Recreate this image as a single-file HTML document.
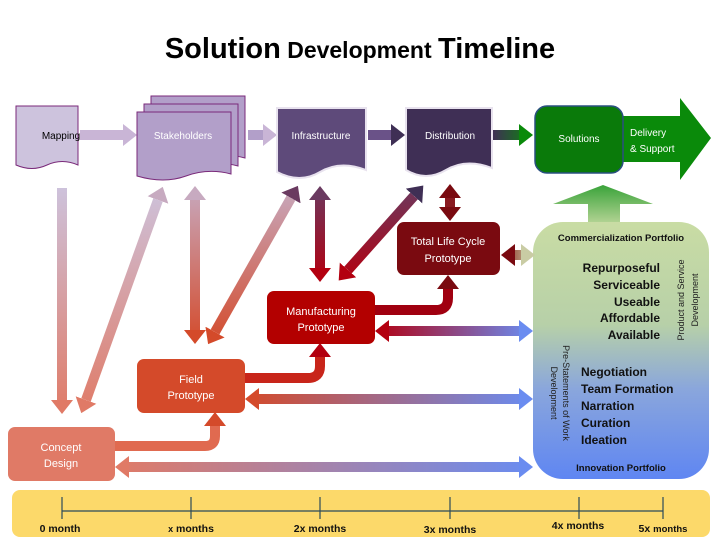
<!DOCTYPE html>
<html><head><meta charset="utf-8"><style>
body{margin:0;background:#fff;}
svg{display:block;font-family:"Liberation Sans",sans-serif;}
</style></head><body>
<svg width="720" height="540" viewBox="0 0 720 540" xmlns="http://www.w3.org/2000/svg">
<defs>
<linearGradient id="port" x1="0" y1="0" x2="0" y2="1">
<stop offset="0" stop-color="#c9dca4"/><stop offset="0.4" stop-color="#b7d0a8"/><stop offset="0.65" stop-color="#8aa6dc"/><stop offset="1" stop-color="#5f86f2"/></linearGradient>
<linearGradient id="gup" x1="0" y1="0" x2="0" y2="1"><stop offset="0" stop-color="#3aa33a"/><stop offset="1" stop-color="#c9dca4"/></linearGradient>
<linearGradient id="h1" gradientUnits="userSpaceOnUse" x1="115" y1="0" x2="530" y2="0"><stop offset="0" stop-color="#e07a66"/><stop offset="1" stop-color="#6a8cf0"/></linearGradient>
<linearGradient id="h2" gradientUnits="userSpaceOnUse" x1="245" y1="0" x2="530" y2="0"><stop offset="0" stop-color="#d44a2a"/><stop offset="1" stop-color="#6a8cf0"/></linearGradient>
<linearGradient id="h3" gradientUnits="userSpaceOnUse" x1="375" y1="0" x2="530" y2="0"><stop offset="0" stop-color="#b30010"/><stop offset="1" stop-color="#6a8cf0"/></linearGradient>
<linearGradient id="v1" gradientUnits="userSpaceOnUse" x1="0" y1="185" x2="0" y2="415"><stop offset="0" stop-color="#cdc3dd"/><stop offset="1" stop-color="#e07a66"/></linearGradient>
<linearGradient id="v2" gradientUnits="userSpaceOnUse" x1="0" y1="185" x2="0" y2="345"><stop offset="0" stop-color="#c7aac0"/><stop offset="1" stop-color="#d44a2a"/></linearGradient>
<linearGradient id="v3" gradientUnits="userSpaceOnUse" x1="0" y1="185" x2="0" y2="280"><stop offset="0" stop-color="#6a3a60"/><stop offset="1" stop-color="#b30010"/></linearGradient>
<linearGradient id="dg" gradientUnits="userSpaceOnUse" x1="493" y1="0" x2="533" y2="0"><stop offset="0" stop-color="#3f2f55"/><stop offset="1" stop-color="#0a8a0a"/></linearGradient>
<linearGradient id="tl" gradientUnits="userSpaceOnUse" x1="503" y1="0" x2="533" y2="0"><stop offset="0" stop-color="#8a2a20"/><stop offset="1" stop-color="#c9cca4"/></linearGradient>
<marker id="mP" viewBox="0 0 14 22" refX="0" refY="11" markerWidth="14" markerHeight="22" markerUnits="userSpaceOnUse" orient="auto-start-reverse"><path d="M0,0L14,11L0,22z" fill="#c9b5d6"/></marker>
<marker id="mP2" viewBox="0 0 14 22" refX="0" refY="11" markerWidth="14" markerHeight="22" markerUnits="userSpaceOnUse" orient="auto-start-reverse"><path d="M0,0L14,11L0,22z" fill="#6a5288"/></marker>
<marker id="mP3" viewBox="0 0 14 22" refX="0" refY="11" markerWidth="14" markerHeight="22" markerUnits="userSpaceOnUse" orient="auto-start-reverse"><path d="M0,0L14,11L0,22z" fill="#3f2f55"/></marker>
<marker id="mG" viewBox="0 0 14 22" refX="0" refY="11" markerWidth="14" markerHeight="22" markerUnits="userSpaceOnUse" orient="auto-start-reverse"><path d="M0,0L14,11L0,22z" fill="#0a8a0a"/></marker>
<marker id="mS" viewBox="0 0 14 22" refX="0" refY="11" markerWidth="14" markerHeight="22" markerUnits="userSpaceOnUse" orient="auto-start-reverse"><path d="M0,0L14,11L0,22z" fill="#e07a66"/></marker>
<marker id="mO" viewBox="0 0 14 22" refX="0" refY="11" markerWidth="14" markerHeight="22" markerUnits="userSpaceOnUse" orient="auto-start-reverse"><path d="M0,0L14,11L0,22z" fill="#d44a2a"/></marker>
<marker id="mR" viewBox="0 0 14 22" refX="0" refY="11" markerWidth="14" markerHeight="22" markerUnits="userSpaceOnUse" orient="auto-start-reverse"><path d="M0,0L14,11L0,22z" fill="#b30010"/></marker>
<marker id="mD" viewBox="0 0 14 22" refX="0" refY="11" markerWidth="14" markerHeight="22" markerUnits="userSpaceOnUse" orient="auto-start-reverse"><path d="M0,0L14,11L0,22z" fill="#7a0a10"/></marker>
<marker id="mB" viewBox="0 0 14 22" refX="0" refY="11" markerWidth="14" markerHeight="22" markerUnits="userSpaceOnUse" orient="auto-start-reverse"><path d="M0,0L14,11L0,22z" fill="#6a8cf0"/></marker>
<marker id="mL" viewBox="0 0 14 22" refX="0" refY="11" markerWidth="14" markerHeight="22" markerUnits="userSpaceOnUse" orient="auto-start-reverse"><path d="M0,0L14,11L0,22z" fill="#c9cca4"/></marker>
<marker id="mPk" viewBox="0 0 14 22" refX="0" refY="11" markerWidth="14" markerHeight="22" markerUnits="userSpaceOnUse" orient="auto-start-reverse"><path d="M0,0L14,11L0,22z" fill="#c7aac0"/></marker>
<marker id="mM" viewBox="0 0 14 22" refX="0" refY="11" markerWidth="14" markerHeight="22" markerUnits="userSpaceOnUse" orient="auto-start-reverse"><path d="M0,0L14,11L0,22z" fill="#6a3a60"/></marker>
</defs>

<text x="360" y="58" text-anchor="middle" font-weight="bold" fill="#000"><tspan font-size="29">Solution</tspan><tspan font-size="23"> Development </tspan><tspan font-size="29">Timeline</tspan></text>

<!-- horizontal top arrows -->
<line x1="80" y1="135" x2="123" y2="135" stroke="#c9b5d6" stroke-width="10" marker-end="url(#mP)"/>
<line x1="248" y1="135" x2="263" y2="135" stroke="#b29fc9" stroke-width="10" marker-end="url(#mP)"/>
<line x1="368" y1="135" x2="391" y2="135" stroke="#6a5288" stroke-width="10" marker-end="url(#mP3)"/>
<line x1="493" y1="135" x2="519" y2="135" stroke="url(#dg)" stroke-width="10" marker-end="url(#mG)"/>

<!-- Mapping -->
<path d="M16,106H78V165Q62,158 47,165T16,165Z" fill="#cdc3dd" stroke="#7a2a7a" stroke-width="1"/>
<text x="61" y="139" font-size="10" text-anchor="middle">Mapping</text>
<!-- Stakeholders -->
<path d="M151,96H245V158Q222,152 200,160T151,160Z" fill="#b29fc9" stroke="#7a2a7a"/>
<path d="M144,104H238V166Q215,160 193,168T144,168Z" fill="#b29fc9" stroke="#7a2a7a"/>
<path d="M137,112H231V174Q208,168 186,176T137,176Z" fill="#b29fc9" stroke="#7a2a7a"/>
<text x="183" y="139" font-size="10" text-anchor="middle" fill="#fff">Stakeholders</text>
<!-- Infrastructure -->
<path d="M277,108H366V170Q340,160 320,172T277,172Z" fill="#5e4a7a" stroke="#e8e2ee" stroke-width="2"/>
<text x="321" y="139" font-size="10" text-anchor="middle" fill="#fff">Infrastructure</text>
<!-- Distribution -->
<path d="M406,108H492V168Q466,158 446,170T406,170Z" fill="#3f2f55" stroke="#e8e2ee" stroke-width="2"/>
<text x="450" y="139" font-size="10" text-anchor="middle" fill="#fff">Distribution</text>
<!-- Solutions + delivery -->
<polygon points="622,116 680,116 680,98 711,138 680,180 680,162 622,162" fill="#0a8a0a"/>
<rect x="535" y="106" width="88" height="67" rx="12" fill="#0a7a0a" stroke="#2a5080" stroke-width="1.5"/>
<text x="579" y="142" font-size="10" text-anchor="middle" fill="#fff">Solutions</text>
<text x="630" y="136" font-size="10" fill="#fff">Delivery</text>
<text x="630" y="152" font-size="10" fill="#fff">&amp; Support</text>

<!-- green up arrow -->
<polygon points="588,230 588,204 553,204 603,185 653,204 620,204 620,230" fill="url(#gup)"/>

<!-- portfolio -->
<rect x="533" y="222" width="176" height="257" rx="30" fill="url(#port)"/>
<text x="621" y="241" font-size="9.5" font-weight="bold" text-anchor="middle" fill="#111">Commercialization Portfolio</text>
<g font-size="12" font-weight="bold" text-anchor="end" fill="#111">
<text x="660" y="272">Repurposeful</text><text x="660" y="289">Serviceable</text><text x="660" y="306">Useable</text><text x="660" y="322">Affordable</text><text x="660" y="339">Available</text></g>
<text transform="translate(684,300) rotate(-90)" font-size="9" text-anchor="middle" fill="#222">Product  and Service</text>
<text transform="translate(698,300) rotate(-90)" font-size="9" text-anchor="middle" fill="#222">Development</text>
<text transform="translate(563,393) rotate(90)" font-size="9" text-anchor="middle" fill="#222">Pre-Statements of Work</text>
<text transform="translate(551,393) rotate(90)" font-size="9" text-anchor="middle" fill="#222">Development</text>
<g font-size="12" font-weight="bold" fill="#111">
<text x="581" y="376">Negotiation</text><text x="581" y="393">Team Formation</text><text x="581" y="410">Narration</text><text x="581" y="427">Curation</text><text x="581" y="444">Ideation</text></g>
<text x="621" y="471" font-size="9.5" font-weight="bold" text-anchor="middle" fill="#111">Innovation Portfolio</text>

<!-- vertical/diagonal arrows -->
<line x1="62" y1="188" x2="62" y2="400" stroke="url(#v1)" stroke-width="10" marker-end="url(#mS)"/>
<line x1="86" y1="400" x2="158" y2="200" stroke="url(#v1)" stroke-width="10" marker-start="url(#mS)" marker-end="url(#mPk)"/>
<line x1="195" y1="200" x2="195" y2="330" stroke="url(#v2)" stroke-width="10" marker-start="url(#mPk)" marker-end="url(#mO)"/>
<line x1="215" y1="332" x2="291" y2="198" stroke="url(#v2)" stroke-width="10" marker-start="url(#mO)" marker-end="url(#mM)"/>
<line x1="320" y1="200" x2="320" y2="268" stroke="url(#v3)" stroke-width="10" marker-start="url(#mM)" marker-end="url(#mR)"/>
<line x1="348" y1="270" x2="414" y2="196" stroke="url(#v3)" stroke-width="10" marker-start="url(#mR)" marker-end="url(#mP3)"/>
<line x1="450" y1="198" x2="450" y2="207" stroke="#8a1a20" stroke-width="10" marker-start="url(#mD)" marker-end="url(#mD)"/>

<!-- horizontal long double arrows -->
<line x1="129" y1="467" x2="519" y2="467" stroke="url(#h1)" stroke-width="10" marker-start="url(#mS)" marker-end="url(#mB)"/>
<line x1="259" y1="399" x2="519" y2="399" stroke="url(#h2)" stroke-width="10" marker-start="url(#mO)" marker-end="url(#mB)"/>
<line x1="389" y1="331" x2="519" y2="331" stroke="url(#h3)" stroke-width="10" marker-start="url(#mR)" marker-end="url(#mB)"/>
<line x1="515" y1="255" x2="521" y2="255" stroke="url(#tl)" stroke-width="10" marker-start="url(#mD)" marker-end="url(#mL)"/>

<!-- elbow arrows -->
<path d="M112,446H205Q215,446 215,436V426" fill="none" stroke="#e06a50" stroke-width="10" marker-end="url(#mO)"/>
<path d="M242,378H308Q320,378 320,366V357" fill="none" stroke="#c8251a" stroke-width="10" marker-end="url(#mR)"/>
<path d="M372,310H436Q448,310 448,298V289" fill="none" stroke="#a00010" stroke-width="10" marker-end="url(#mD)"/>

<!-- boxes -->
<rect x="397" y="222" width="103" height="53" rx="7" fill="#7a0a10"/>
<text x="448" y="245" font-size="11" text-anchor="middle" fill="#fff">Total Life Cycle</text>
<text x="448" y="262" font-size="11" text-anchor="middle" fill="#fff">Prototype</text>
<rect x="267" y="291" width="108" height="53" rx="7" fill="#b30000"/>
<text x="321" y="315" font-size="11" text-anchor="middle" fill="#fff">Manufacturing</text>
<text x="321" y="331" font-size="11" text-anchor="middle" fill="#fff">Prototype</text>
<rect x="137" y="359" width="108" height="54" rx="7" fill="#d44a2a"/>
<text x="191" y="383" font-size="11" text-anchor="middle" fill="#fff">Field</text>
<text x="191" y="399" font-size="11" text-anchor="middle" fill="#fff">Prototype</text>
<rect x="8" y="427" width="107" height="54" rx="7" fill="#e07a66"/>
<text x="61" y="451" font-size="11" text-anchor="middle" fill="#fff">Concept</text>
<text x="61" y="467" font-size="11" text-anchor="middle" fill="#fff">Design</text>

<!-- timeline -->
<rect x="12" y="490" width="698" height="47" rx="8" fill="#fcd96a"/>
<line x1="62" y1="511" x2="663" y2="511" stroke="#2a4a5a" stroke-width="1.2"/>
<g stroke="#2a4a5a" stroke-width="1.2">
<line x1="62" y1="497" x2="62" y2="519"/><line x1="191" y1="497" x2="191" y2="519"/><line x1="320" y1="497" x2="320" y2="519"/><line x1="450" y1="497" x2="450" y2="519"/><line x1="579" y1="497" x2="579" y2="519"/><line x1="663" y1="497" x2="663" y2="519"/></g>
<g font-size="10.5" font-weight="bold" fill="#111" text-anchor="middle">
<text x="60" y="532">0 month</text><text x="191" y="532"><tspan font-size="9">x</tspan> months</text><text x="320" y="532">2x months</text><text x="450" y="533">3x months</text><text x="578" y="529">4x months</text><text x="663" y="532">5x <tspan font-size="9.5">months</tspan></text></g>
</svg>
</body></html>
